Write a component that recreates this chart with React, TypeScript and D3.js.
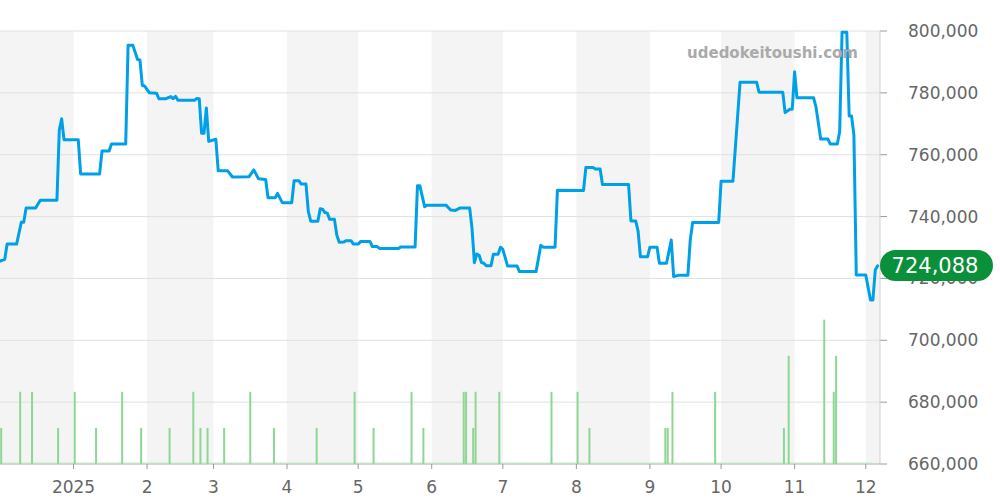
import React from "react";
import * as d3 from "d3";

const priceDates = [
  "2024-12-01","2024-12-03","2024-12-04","2024-12-08","2024-12-10","2024-12-11","2024-12-12","2024-12-16",
  "2024-12-18","2024-12-25","2024-12-26","2024-12-27","2024-12-28","2025-01-03","2025-01-04","2025-01-12",
  "2025-01-13","2025-01-16","2025-01-17","2025-01-23","2025-01-24","2025-01-26","2025-01-28","2025-01-29",
  "2025-01-30","2025-01-31","2025-02-02","2025-02-05","2025-02-06","2025-02-09","2025-02-11","2025-02-12",
  "2025-02-13","2025-02-14","2025-02-21","2025-02-22","2025-02-23","2025-02-24","2025-02-25","2025-02-26",
  "2025-02-27","2025-03-02","2025-03-03","2025-03-07","2025-03-09","2025-03-16","2025-03-18","2025-03-20",
  "2025-03-23","2025-03-24","2025-03-27","2025-03-28","2025-03-30","2025-04-03","2025-04-04","2025-04-06",
  "2025-04-07","2025-04-09","2025-04-10","2025-04-11","2025-04-14","2025-04-15","2025-04-16","2025-04-17",
  "2025-04-18","2025-04-19","2025-04-21","2025-04-22","2025-04-23","2025-04-25","2025-04-26","2025-04-28",
  "2025-04-29","2025-05-01","2025-05-02","2025-05-06","2025-05-07","2025-05-09","2025-05-10","2025-05-18",
  "2025-05-19","2025-05-25","2025-05-26","2025-05-27","2025-05-29","2025-05-30","2025-06-07","2025-06-09",
  "2025-06-11","2025-06-13","2025-06-17","2025-06-18","2025-06-19","2025-06-20","2025-06-21","2025-06-22",
  "2025-06-23","2025-06-24","2025-06-26","2025-06-27","2025-06-29","2025-06-30","2025-07-01","2025-07-03",
  "2025-07-07","2025-07-08","2025-07-15","2025-07-17","2025-07-18","2025-07-23","2025-07-24","2025-08-04",
  "2025-08-05","2025-08-08","2025-08-09","2025-08-11","2025-08-12","2025-08-23","2025-08-24","2025-08-26",
  "2025-08-27","2025-08-28","2025-08-31","2025-09-01","2025-09-04","2025-09-05","2025-09-08","2025-09-10",
  "2025-09-11","2025-09-13","2025-09-17","2025-09-18","2025-09-19","2025-09-30","2025-10-01","2025-10-06",
  "2025-10-09","2025-10-16","2025-10-17","2025-10-27","2025-10-28","2025-10-30","2025-10-31","2025-11-01",
  "2025-11-02","2025-11-09","2025-11-10","2025-11-12","2025-11-15","2025-11-16","2025-11-19","2025-11-20",
  "2025-11-21","2025-11-23","2025-11-24","2025-11-25","2025-11-26","2025-11-27","2025-12-01","2025-12-03",
  "2025-12-04","2025-12-05","2025-12-06",
];

const priceValues = [
  725600,726200,731100,731100,738200,738200,742800,742800,
  745300,745300,768000,771600,764800,764800,753800,753800,
  761200,761200,763500,763500,795400,795400,790800,790600,
  782400,782200,780000,779900,778100,778100,778800,778100,
  778900,777600,777600,778200,778100,766900,766900,775100,
  764300,765000,754800,754800,752800,752900,755100,752200,
  752000,746100,746100,747500,744500,744500,751600,751600,
  750500,750500,741600,738500,738500,742500,742400,741300,
  741100,739100,739100,734000,731700,731800,732200,732200,
  731100,731100,731900,731900,730300,730300,729700,729700,
  730200,730200,750000,750000,743200,743700,743700,742100,
  742000,742800,742800,736200,725100,727900,727500,725100,
  724900,724100,724100,727800,727800,730100,729400,724000,
  724000,722200,722200,730700,730100,730100,748500,748400,
  755900,755900,755400,755400,750400,750400,738600,738600,
  735400,727000,727000,730100,730100,724900,724900,732400,
  720600,721000,721000,732400,738100,738100,751400,751400,
  783400,783400,780200,780200,773600,774700,774700,786800,
  778400,778400,775500,765100,765100,763500,763500,767400,
  799600,799600,772500,772500,766400,721100,721100,713000,
  713000,722700,724088,
];

const volumeDates = [
  "2024-12-01","2024-12-09","2024-12-14","2024-12-25","2025-01-01","2025-01-10","2025-01-21","2025-01-29",
  "2025-02-10","2025-02-20","2025-02-23","2025-02-26","2025-03-05","2025-03-16","2025-03-26","2025-04-13",
  "2025-04-29","2025-05-07","2025-05-23","2025-05-28","2025-06-14","2025-06-15","2025-06-18","2025-06-19",
  "2025-06-29","2025-07-21","2025-08-01","2025-08-06","2025-09-07","2025-09-08","2025-09-10","2025-09-28",
  "2025-10-27","2025-10-29","2025-11-13","2025-11-17","2025-11-18",
];
const volumeValues = [
  1,2,2,1,2,1,2,1,
  1,2,1,1,1,2,1,1,
  2,1,2,1,2,2,1,2,
  2,2,2,1,1,1,2,2,
  1,3,4,2,3,
];

const monthTickDates = [
  "2025-01-01","2025-02-01","2025-03-01","2025-04-01","2025-05-01","2025-06-01",
  "2025-07-01","2025-08-01","2025-09-01","2025-10-01","2025-11-01","2025-12-01",
];
const monthTickLabels = ["2025","2","3","4","5","6","7","8","9","10","11","12"];
const yTickValues = [660000,680000,700000,720000,740000,760000,780000,800000];
const lastPrice = 724088;
const watermarkText = "udedokeitoushi.com";

export default function App() {
  const parse = d3.timeParse("%Y-%m-%d");
  const startDate = parse("2024-12-01") as Date;
  const endDate = parse("2025-12-07") as Date;
  const plotL = 0, plotR = 880, plotT = 31, plotB = 464;

  const x = d3.scaleTime().domain([startDate, endDate]).range([plotL, plotR]);
  const y = d3.scaleLinear().domain([660000, 800000]).range([plotB, plotT]);
  const yv = d3.scaleLinear().domain([0, 12]).range([plotB, plotT]);
  const fmt = d3.format(",");

  const months = d3.timeMonth.range(startDate, d3.timeMonth.offset(endDate, 1));
  const bands = months
    .map((m, i) => ({ i, x0: x(m), x1: Math.min(x(d3.timeMonth.offset(m, 1)), plotR) }))
    .filter((b) => b.i % 2 === 0 && b.x0 < plotR);

  const pts = priceDates.map((d, i) => [parse(d) as Date, priceValues[i]] as [Date, number]);
  const line = d3
    .line<[Date, number]>()
    .x((d) => x(d[0]))
    .y((d) => y(d[1]));

  const halfDay = (x(d3.timeDay.offset(startDate, 1)) - x(startDate)) / 2;

  return (
    <svg
      width={1000}
      height={500}
      style={{ position: "absolute", left: 0, top: 0, fontFamily: "DejaVu Sans, sans-serif" }}
    >
      <rect x={0} y={0} width={1000} height={500} fill="#ffffff" />
      {bands.map((b) => (
        <rect key={b.i} x={b.x0} y={plotT} width={b.x1 - b.x0} height={plotB - plotT} fill="#f4f4f4" />
      ))}
      {yTickValues.map((v) => (
        <g key={v}>
          <line x1={plotL} x2={plotR} y1={y(v)} y2={y(v)} stroke="#e0e0e0" strokeWidth={1} />
          <line x1={plotR} x2={plotR + 7} y1={y(v)} y2={y(v)} stroke="#999" strokeWidth={1} />
          <text x={908} y={y(v) + 6} fontSize={17} fill="#666">
            {fmt(v)}
          </text>
        </g>
      ))}
      <line x1={plotR} x2={plotR} y1={plotT} y2={plotB} stroke="#d0d0d0" strokeWidth={1} />
      <line x1={plotL} x2={plotR} y1={plotB} y2={plotB} stroke="#bbb" strokeWidth={1} />
      {monthTickDates.map((d, i) => {
        const xx = x(parse(d) as Date);
        return (
          <g key={d}>
            <line x1={xx} x2={xx} y1={plotB} y2={plotB + 5} stroke="#999" strokeWidth={1} />
            <text x={xx} y={493} fontSize={17} fill="#666" textAnchor="middle">
              {monthTickLabels[i]}
            </text>
          </g>
        );
      })}
      <line
        x1={plotL}
        x2={872}
        y1={plotB - 0.8}
        y2={plotB - 0.8}
        stroke="#bfe3bf"
        strokeWidth={1.5}
        strokeDasharray="2 0.5"
      />
      {volumeDates.map((d, i) => {
        const xx = x(parse(d) as Date) + halfDay;
        return (
          <rect
            key={d + i}
            x={xx - 1}
            y={yv(volumeValues[i])}
            width={2}
            height={plotB - yv(volumeValues[i])}
            fill="#8fd694"
          />
        );
      })}
      <path
        d={line(pts) || ""}
        fill="none"
        stroke="#00a0e9"
        strokeWidth={3}
        strokeLinejoin="round"
        strokeLinecap="round"
      />
      <text x={858} y={58} fontSize={15} fontWeight="bold" fill="#aaaaaa" textAnchor="end">
        {watermarkText}
      </text>
      <rect x={880} y={250} width={113} height={31} rx={15.5} ry={15.5} fill="#0a8f3a" />
      <text x={935} y={273} fontSize={21} fill="#ffffff" textAnchor="middle">
        {fmt(lastPrice)}
      </text>
    </svg>
  );
}
